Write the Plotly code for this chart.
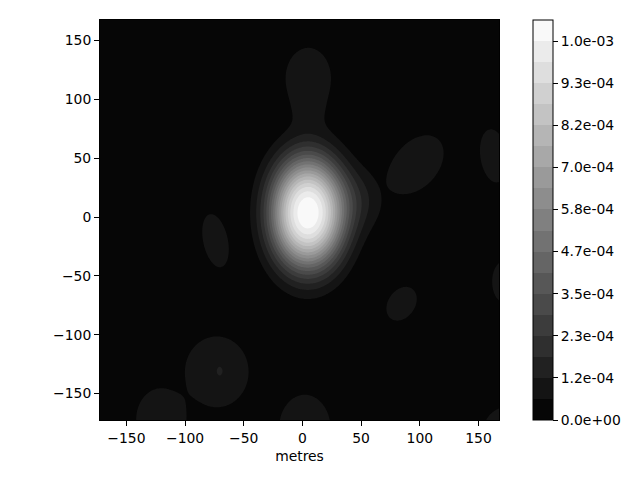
import numpy as np
import plotly.graph_objects as go

# ---- data: smooth field built from elliptical bumps ----
#            core    flank   neck    top      right    farR     edgeR    lowR     left     lowL     spot    botL     botC     corner
blob_x   = [4.5,    50.0,   6.0,    5.0,     97.3,    163.0,   172.0,   84.5,    -74.1,   -73.0,   -70.5,  -120.3,  2.0,     175.0]
blob_y   = [3.5,    15.0,   88.0,   118.0,   44.9,    52.0,    -55.0,   -73.7,   -20.1,   -131.6,  -131.0, -172.0,  -180.0,  -182.0]
blob_amp = [1.1e-3, 9.0e-5, 2.0e-5, 1.12e-4, 1.12e-4, 1.12e-4, 1.12e-4, 1.12e-4, 1.12e-4, 1.12e-4, 1.0e-5, 1.12e-4, 1.12e-4, 1.12e-4]
blob_sx  = [23.5,   17.0,   14.0,   16.9,    26.8,    10.7,    9.7,     14.6,    9.8,     25.4,    2.0,    20.0,    20.6,    19.4]
blob_sy  = [35.0,   20.0,   10.0,   22.6,    17.9,    21.3,    16.5,    10.7,    21.5,    28.2,    3.0,    24.8,    27.1,    19.4]
blob_rot = [0.0,    0.0,    0.0,    0.0,     50.0,    8.0,     0.0,     55.0,    12.0,    0.0,     0.0,    0.0,     0.0,     0.0]
blob_pow = [1.2,    1.0,    1.0,    1.0,     3.0,     2.0,     2.0,     2.0,     2.0,     2.0,     1.0,    2.0,     2.0,     2.0]

axis_min, axis_max = -172.5, 167.5
level_step = 7.0e-4 / 12.0
n_bands = 19
cbar_tick_vals = [k * 2 * level_step for k in range(10)]
cbar_tick_text = ["0.0e+00", "1.2e-04", "2.3e-04", "3.5e-04", "4.7e-04",
                  "5.8e-04", "7.0e-04", "8.2e-04", "9.3e-04", "1.0e-03"]
axis_tick_vals = [-150, -100, -50, 0, 50, 100, 150]
axis_tick_text = ["\u2212150", "\u2212100", "\u221250", "0", "50", "100", "150"]

# ---- build grid ----
gx = np.arange(axis_min, axis_max + 0.01, 1.0)
gy = np.arange(axis_min, axis_max + 0.01, 1.0)
X, Y = np.meshgrid(gx, gy)
Z = np.zeros_like(X)
for cx, cy, a, sx, sy, rot, p in zip(blob_x, blob_y, blob_amp, blob_sx, blob_sy, blob_rot, blob_pow):
    t = np.deg2rad(rot)
    dx, dy = X - cx, Y - cy
    u = dx * np.cos(t) + dy * np.sin(t)
    v = -dx * np.sin(t) + dy * np.cos(t)
    r2 = (u / sx) ** 2 + (v / sy) ** 2
    Z += a * np.exp(-0.5 * r2 ** p)

top = n_bands * level_step

# ---- matplotlib-like 'gray' bands: band k coloured at its midpoint ----
def gray(k):
    g = min(int((k + 0.5) / n_bands * 256), 255)
    return f"rgb({g},{g},{g})"

nc = n_bands + 1
cscale = [[0.0, gray(0)]]
for k in range(n_bands):
    cscale.append([(k + 1) / nc, gray(k)])
cscale.append([1.0, "rgb(255,255,255)"])

# stepped scale for the colour bar (hard band edges between 0 and top level)
bar_scale = []
for k in range(n_bands):
    bar_scale.append([k / n_bands, gray(k)])
    bar_scale.append([(k + 1) / n_bands, gray(k)])

font = dict(family="DejaVu Sans", size=13.9, color="black")

fig = go.Figure()
# hidden under the contour fill; only supplies the colour bar
fig.add_trace(go.Heatmap(
    x=gx, y=gy, z=Z, zmin=0.0, zmax=top, colorscale=bar_scale, hoverinfo="skip",
    colorbar=dict(thickness=20, len=1, lenmode="fraction", x=1.0844, xanchor="left",
                  y=0.5, yanchor="middle", ypad=0, xpad=0,
                  tickvals=cbar_tick_vals, ticktext=cbar_tick_text,
                  ticks="outside", ticklen=5, tickwidth=1, tickcolor="black",
                  outlinewidth=1, outlinecolor="black", tickfont=font),
))
fig.add_trace(go.Contour(
    x=gx, y=gy, z=Z,
    contours=dict(start=0.0, end=top, size=level_step,
                  coloring="fill", showlines=False),
    line=dict(width=0),
    colorscale=cscale,
    showscale=False,
    hoverinfo="skip",
))

fig.update_layout(
    width=624, height=464, autosize=False,
    margin=dict(l=92, r=129, t=11, b=50),
    paper_bgcolor="white", plot_bgcolor="white",
    font=font,
    xaxis=dict(range=[axis_min, axis_max], tickvals=axis_tick_vals, ticktext=axis_tick_text,
               ticks="outside", ticklen=5, tickwidth=1, tickcolor="black",
               showline=True, mirror=True, linecolor="black", linewidth=1,
               showgrid=False, zeroline=False, title=dict(text="metres", font=font, standoff=6)),
    yaxis=dict(range=[axis_min, axis_max], tickvals=axis_tick_vals, ticktext=axis_tick_text,
               ticks="outside", ticklen=5, tickwidth=1, tickcolor="black",
               showline=True, mirror=True, linecolor="black", linewidth=1,
               showgrid=False, zeroline=False),
)

fig.write_html("out.html")
